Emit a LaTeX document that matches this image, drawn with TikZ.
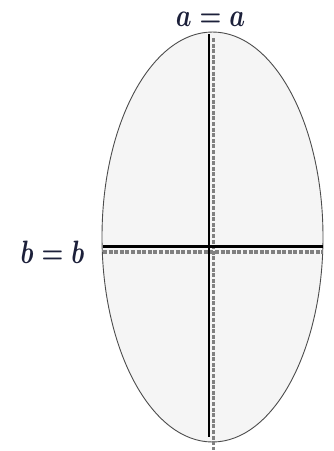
\documentclass[tikz,border=0pt]{standalone}
\usetikzlibrary{shapes.geometric}
\definecolor{labink}{RGB}{28,32,58}
\newcommand{\tallmath}[1]{\scalebox{1}[1.3]{$#1$}}
\begin{document}
\begin{tikzpicture}[x=1pt,y=-1pt,
  oval/.style={ellipse,draw=black!70,line width=0.9pt,fill=black!4,inner sep=0pt},
  axisline/.style={line width=2.6pt,black},
  ruler/.style={line width=3.2pt,black!50,dash pattern=on 4pt off 1.6pt},
  lab/.style={text=labink,inner sep=0pt,anchor=base,font=\fontsize{23.5}{28}\selectfont\boldmath}]
\useasboundingbox (0,0) rectangle (334,451);
\node[oval,minimum width=221pt,minimum height=410pt] (E) at (212.5,237) {};
\coordinate (vt) at (209,34);
\coordinate (vb) at (209,437);
\coordinate (rt) at (213.5,38);
\coordinate (rb) at (213.5,450);
\coordinate (hl) at (103,246.5);
\coordinate (hr) at (323,246.5);
\coordinate (gl) at (103,252);
\coordinate (gr) at (323,252);
\draw[ruler] (rt) -- (rb);
\draw[ruler] (gl) -- (gr);
\draw[axisline] (vt) -- (vb);
\draw[axisline] (hl) -- (hr);
\node[lab] (A) at (210.5,26) {\tallmath{a = a}};
\node[lab] (B) at (52.5,263) {\tallmath{b = b}};
\end{tikzpicture}
\end{document}
